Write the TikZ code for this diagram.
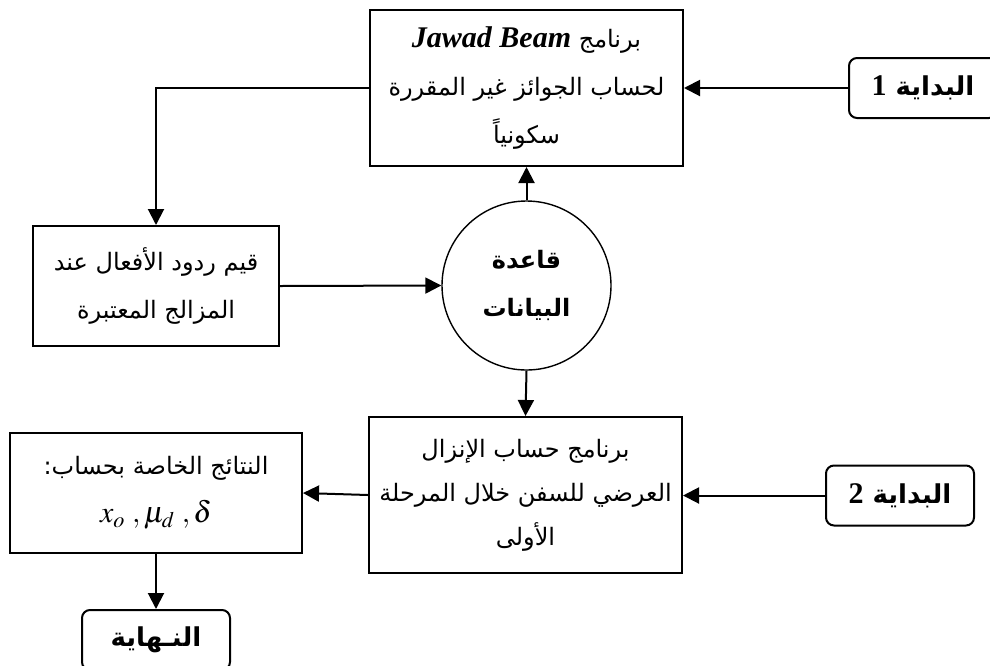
\documentclass[tikz,border=0pt]{standalone}
\usepackage{mathptmx}
\usepackage{fontspec}
\setmainfont{Liberation Serif}
\newfontfamily\arabicfont[Script=Arabic]{DejaVu Sans}
\TeXXeTstate=1
\usetikzlibrary{shapes}
\usetikzlibrary{arrows.meta}
\tikzstyle{every picture}+=[line width=1pt]
\tikzstyle{prog}=[draw, rectangle, align=center, font={\arabicfont\fontsize{12}{24}\selectfont}]
\tikzstyle{terminal}=[draw, rectangle, rounded corners=4pt, minimum width=74pt, minimum height=30pt, font={\arabicfont\bfseries\fontsize{13}{16}\selectfont}]
\tikzstyle{flow}=[-{Triangle[length=8pt,width=8pt]}]

\begin{document}
\begin{tikzpicture}[x=0.5pt, y=-0.5pt]

\useasboundingbox (0,0) rectangle (990,665);

%% programs
\node[prog, minimum width=156.5pt, minimum height=78pt] (jawad) at (526.5,88)
  {\beginR برنامج \beginL{\rmfamily\bfseries\itshape\fontsize{15}{18}\selectfont Jawad Beam}\endL\endR\\
   \beginR لحساب الجوائز غير المقررة\endR\\
   \beginR سكونياً\endR};

\node[prog, minimum width=156.5pt, minimum height=78pt,
      font={\arabicfont\fontsize{12}{22}\selectfont}] (ships) at (525.5,495)
  {\beginR برنامج حساب الإنزال\endR\\
   \beginR العرضي للسفن خلال المرحلة\endR\\
   \beginR الأولى\endR};

%% data base
\node[draw, circle, line width=0.7pt, minimum size=84.5pt, align=center,
      font={\arabicfont\bfseries\fontsize{12}{24}\selectfont}] (db) at (526.5,285.5)
  {\beginR قاعدة\endR\\ \beginR البيانات\endR};

%% results
\node[prog, minimum width=123pt, minimum height=60pt] (reactions) at (156,286)
  {\beginR قيم ردود الأفعال عند\endR\\ \beginR المزالج المعتبرة\endR};

\node[prog, minimum width=146pt, minimum height=60pt] (results) at (156,493)
  {\beginR النتائج الخاصة بحساب:\endR\\
   {\rmfamily\fontsize{15}{18}\selectfont $x_o\;,\mu_d\;,\delta$}};

%% start / end
\node[terminal] (start1) at (923,88) {\beginR البداية {\rmfamily\fontsize{15}{16}\selectfont 1}\endR};
\node[terminal] (start2) at (900,495.5) {\beginR البداية {\rmfamily\fontsize{15}{16}\selectfont 2}\endR};
\node[terminal] (finish) at (156,640) {\beginR النـهاية\endR};

%% connectors
\draw[flow] (start1.west) -- (jawad.east);
\draw[flow] (jawad.west) -| (reactions.north);
\draw[flow] (reactions.east) -- (db.west);
\draw[flow] (db.north) -- (jawad.south);
\draw[flow] (db.south) -- (ships.north);
\draw[flow] (start2.west) -- (start2.west -| ships.east);
\draw[flow] (ships.west) -- (results.east);
\draw[flow] (results.south) -- (finish.north);

\end{tikzpicture}
\end{document}
